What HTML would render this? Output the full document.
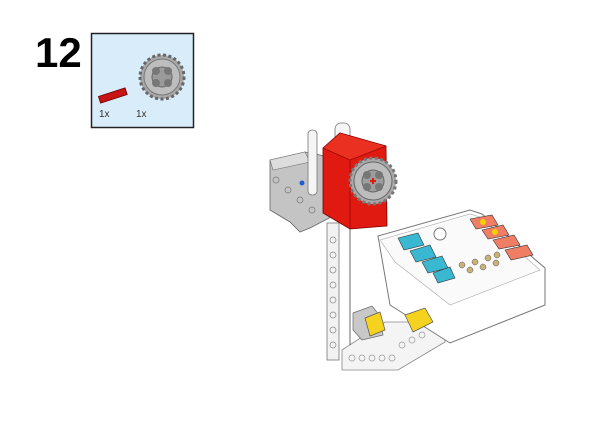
<!DOCTYPE html>
<html><head><meta charset="utf-8"><style>
html,body{margin:0;padding:0;background:#fff;}
body{width:600px;height:424px;position:relative;overflow:hidden;font-family:"Liberation Sans",sans-serif;}
</style></head><body>
<svg width="600" height="424" viewBox="0 0 600 424" xmlns="http://www.w3.org/2000/svg">
<text x="35" y="67" font-family="Liberation Sans" font-weight="bold" font-size="42" fill="#000">12</text>
<rect x="91.5" y="33.5" width="102" height="94" fill="#d8ecfa" stroke="#222" stroke-width="1.5"/>
<g transform="rotate(-18 113 96)"><rect x="99" y="92" width="28" height="7" fill="#c81414" stroke="#600" stroke-width="0.8"/></g>
<g transform="translate(162,77)">
<circle r="22" fill="#a8a8a8" stroke="#666" stroke-width="3" stroke-dasharray="3 2.5"/>
<circle r="18" fill="#bdbdbd" stroke="#777"/>
<circle r="10" fill="#9a9a9a" stroke="#666"/>
<circle cx="-6" cy="-6" r="4" fill="#777"/><circle cx="6" cy="-6" r="4" fill="#777"/><circle cx="-6" cy="6" r="4" fill="#777"/><circle cx="6" cy="6" r="4" fill="#777"/>
</g>
<text x="99" y="117" font-size="10" fill="#333">1x</text>
<text x="136" y="117" font-size="10" fill="#333">1x</text>

<polygon points="342,350 385,322 445,322 445,342 398,370 342,370" fill="#f4f4f4" stroke="#888" stroke-width="0.8"/>
<g fill="none" stroke="#999" stroke-width="0.7">
<circle cx="352" cy="358" r="3"/><circle cx="362" cy="358" r="3"/><circle cx="372" cy="358" r="3"/><circle cx="382" cy="358" r="3"/><circle cx="392" cy="358" r="3"/><circle cx="402" cy="345" r="3"/><circle cx="412" cy="340" r="3"/><circle cx="422" cy="335" r="3"/>
</g>
<rect x="327" y="223" width="12" height="137" fill="#f2f2f2" stroke="#777" stroke-width="0.8"/>
<g fill="none" stroke="#888" stroke-width="0.7">
<circle cx="333" cy="240" r="3"/><circle cx="333" cy="255" r="3"/><circle cx="333" cy="270" r="3"/><circle cx="333" cy="285" r="3"/><circle cx="333" cy="300" r="3"/><circle cx="333" cy="315" r="3"/><circle cx="333" cy="330" r="3"/><circle cx="333" cy="345" r="3"/>
</g>
<line x1="350" y1="228" x2="350" y2="345" stroke="#444" stroke-width="0.8"/>
<polygon points="378,236 470,210 482,214 545,268 545,305 450,343 390,305" fill="#fff" stroke="#777" stroke-width="1"/>
<polygon points="380,240 470,214 480,217 540,270 450,305 395,262" fill="#fafafa" stroke="#aaa" stroke-width="0.6"/>
<circle cx="440" cy="234" r="6" fill="#fff" stroke="#777"/>
<g stroke="#333" stroke-width="0.6">
<polygon points="398,238 418,233 424,245 404,250" fill="#3ab7d1"/>
<polygon points="410,251 430,245 436,257 416,262" fill="#3ab7d1"/>
<polygon points="422,262 442,256 448,268 428,273" fill="#3ab7d1"/>
<polygon points="433,273 450,267 455,278 438,283" fill="#3ab7d1"/>
<polygon points="470,219 492,215 498,225 476,229" fill="#ef7e65"/>
<polygon points="482,230 503,225 509,235 488,239" fill="#ef7e65"/>
<polygon points="493,240 514,235 520,245 499,249" fill="#ef7e65"/>
<polygon points="505,250 527,245 533,255 511,260" fill="#ef7e65"/>
</g>
<circle cx="483" cy="222" r="3" fill="#f4d000"/><circle cx="495" cy="232" r="3" fill="#f4d000"/>
<g fill="#c9b27a" stroke="#555" stroke-width="0.5">
<circle cx="462" cy="265" r="3"/><circle cx="475" cy="262" r="3"/><circle cx="488" cy="258" r="3"/><circle cx="497" cy="255" r="3"/>
<circle cx="470" cy="270" r="3"/><circle cx="483" cy="267" r="3"/><circle cx="496" cy="263" r="3"/>
</g>
<polygon points="353,313 372,306 380,316 383,335 362,340 353,330" fill="#c8c8c8" stroke="#666" stroke-width="0.7"/>
<polygon points="365,318 380,312 385,330 370,336" fill="#f5d21e" stroke="#555" stroke-width="0.7"/>
<polygon points="405,315 425,308 433,322 413,332" fill="#f5d21e" stroke="#555" stroke-width="0.7"/>
<polygon points="270,160 305,152 335,158 335,215 310,228 300,232 290,222 270,210" fill="#c4c4c4" stroke="#666" stroke-width="0.8"/>
<polygon points="270,160 305,152 310,162 273,170" fill="#ddd" stroke="#777" stroke-width="0.6"/>
<g fill="none" stroke="#777" stroke-width="0.7"><circle cx="276" cy="180" r="3"/><circle cx="288" cy="190" r="3"/><circle cx="300" cy="200" r="3"/><circle cx="312" cy="210" r="3"/></g>
<circle cx="302" cy="183" r="2.5" fill="#1f5fd0"/><circle cx="311" cy="190" r="2.5" fill="#1f5fd0"/>
<rect x="308" y="130" width="9" height="65" fill="#f5f5f5" stroke="#777" stroke-width="0.8" rx="4"/>
<rect x="335" y="123" width="15" height="20" fill="#f5f5f5" stroke="#777" stroke-width="0.8" rx="6"/>
<polygon points="323,148 340,133 386,146 387,226 350,229 323,213" fill="#e01a10" stroke="#700" stroke-width="0.8"/>
<polygon points="323,148 340,133 386,146 350,160" fill="#ea3020" stroke="#800" stroke-width="0.6"/>
<line x1="350" y1="160" x2="350" y2="229" stroke="#800" stroke-width="0.6"/>
<g transform="translate(373,181)">
<circle r="23" fill="#a9a9a9" stroke="#777" stroke-width="3" stroke-dasharray="3 2.5"/>
<circle r="19" fill="#bdbdbd" stroke="#666"/>
<circle r="11" fill="#9d9d9d" stroke="#666"/>
<circle cx="-6" cy="-6" r="4" fill="#777"/><circle cx="6" cy="-6" r="4" fill="#777"/><circle cx="-6" cy="6" r="4" fill="#777"/><circle cx="6" cy="6" r="4" fill="#777"/>
<path d="M-3 0H3M0 -3V3" stroke="#e01a10" stroke-width="2"/>
</g>
</svg>
</body></html>
